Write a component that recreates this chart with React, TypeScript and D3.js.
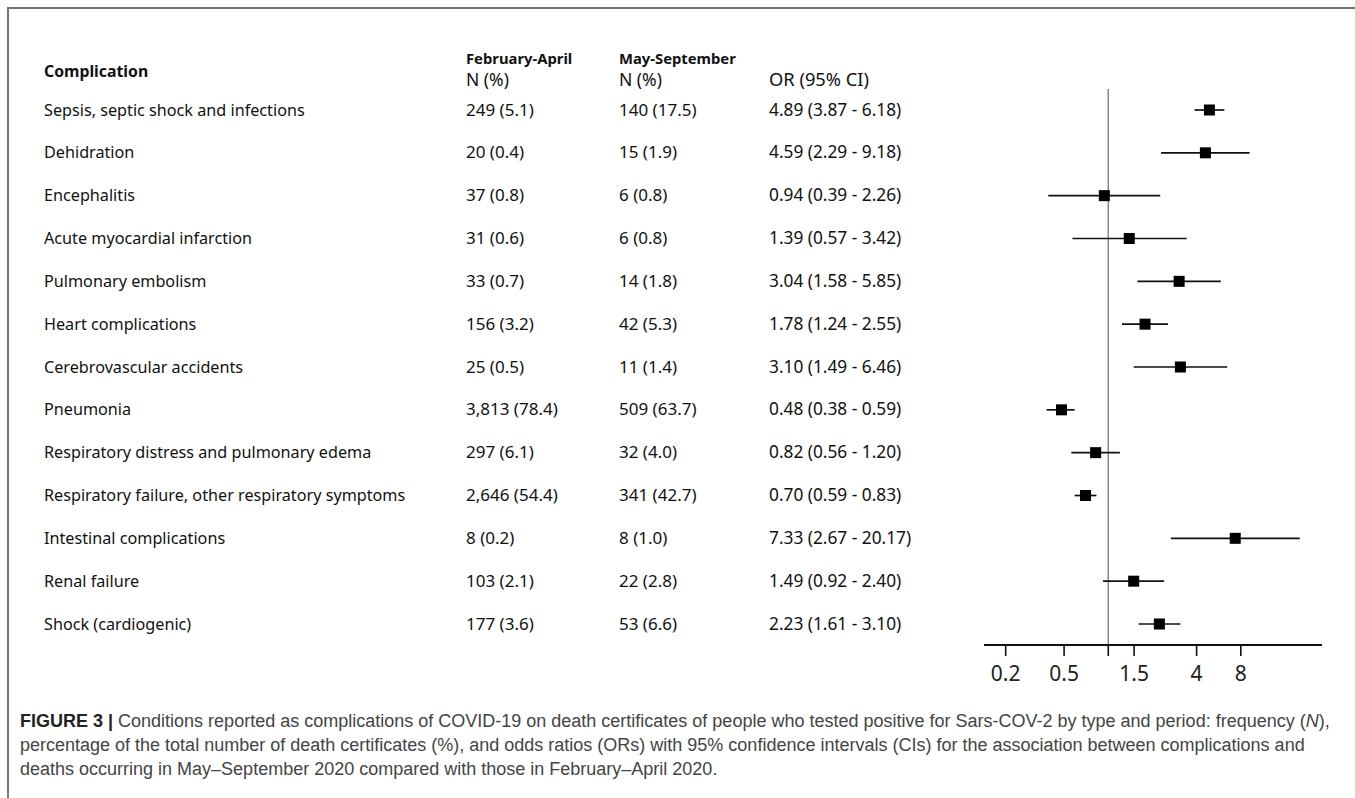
import React from "react";
import * as d3 from "d3";

const complications = [
  "Sepsis, septic shock and infections",
  "Dehidration",
  "Encephalitis",
  "Acute myocardial infarction",
  "Pulmonary embolism",
  "Heart complications",
  "Cerebrovascular accidents",
  "Pneumonia",
  "Respiratory distress and pulmonary edema",
  "Respiratory failure, other respiratory symptoms",
  "Intestinal complications",
  "Renal failure",
  "Shock (cardiogenic)",
];
const febApr = ["249 (5.1)", "20 (0.4)", "37 (0.8)", "31 (0.6)", "33 (0.7)", "156 (3.2)", "25 (0.5)", "3,813 (78.4)", "297 (6.1)", "2,646 (54.4)", "8 (0.2)", "103 (2.1)", "177 (3.6)"];
const maySep = ["140 (17.5)", "15 (1.9)", "6 (0.8)", "6 (0.8)", "14 (1.8)", "42 (5.3)", "11 (1.4)", "509 (63.7)", "32 (4.0)", "341 (42.7)", "8 (1.0)", "22 (2.8)", "53 (6.6)"];
const orValues = [4.89, 4.59, 0.94, 1.39, 3.04, 1.78, 3.1, 0.48, 0.82, 0.7, 7.33, 1.49, 2.23];
const ciLow = [3.87, 2.29, 0.39, 0.57, 1.58, 1.24, 1.49, 0.38, 0.56, 0.59, 2.67, 0.92, 1.61];
const ciHigh = [6.18, 9.18, 2.26, 3.42, 5.85, 2.55, 6.46, 0.59, 1.2, 0.83, 20.17, 2.4, 3.1];
const tickValues = [0.2, 0.5, 1, 1.5, 4, 8];
const tickLabels = ["0.2", "0.5", "", "1.5", "4", "8"];
const captionLines = [
  "Conditions reported as complications of COVID-19 on death certificates of people who tested positive for Sars-COV-2 by type and period: frequency (",
  "percentage of the total number of death certificates (%), and odds ratios (ORs) with 95% confidence intervals (CIs) for the association between complications and",
  "deaths occurring in May\u2013September 2020 compared with those in February\u2013April 2020.",
];

const fmt2 = (v: number) => v.toFixed(2);

export default function App() {
  const W = 1355;
  const H = 798;
  const x = d3.scaleLog().domain([0.1423, 28.6]).range([984, 1322]);
  const y = d3
    .scalePoint<number>()
    .domain(d3.range(complications.length))
    .range([110, 624]);
  const axisY = 645;
  const font = "'Noto Sans', 'Open Sans', sans-serif";
  const capFont = "'Liberation Sans', Arial, sans-serif";
  const colFeb = 466;
  const colMay = 619;
  const colOR = 769;
  const sq = 11;

  return (
    <svg
      width={W}
      height={H}
      style={{ position: "absolute", left: 0, top: 0, background: "#fff" }}
    >
      <rect x={0} y={0} width={W} height={H} fill="#fff" />
      {/* frame */}
      <line x1={7} x2={W} y1={8} y2={8} stroke="#444" strokeWidth={1.5} />
      <line x1={8} x2={8} y1={8} y2={H} stroke="#777" strokeWidth={2} />

      {/* header */}
      <g fontFamily={font} fill="#111">
        <text x={44} y={77} fontWeight="bold" fontSize={15.8}>Complication</text>
        <text x={colFeb} y={64} fontWeight="bold" fontSize={14.8}>February-April</text>
        <text x={colFeb} y={86} fontSize={17.5}>N (%)</text>
        <text x={colMay} y={64} fontWeight="bold" fontSize={14.8}>May-September</text>
        <text x={colMay} y={86} fontSize={17.5}>N (%)</text>
        <text x={colOR} y={86} fontSize={18.3}>OR (95% CI)</text>
      </g>

      {/* rows */}
      <g fontFamily={font} fill="#111">
        {complications.map((c, i) => (
          <g key={c}>
            <text x={44} y={(y(i) as number) + 5.5} fontSize={16.2}>{c}</text>
            <text x={colFeb} y={(y(i) as number) + 5.5} fontSize={17}>{febApr[i]}</text>
            <text x={colMay} y={(y(i) as number) + 5.5} fontSize={17}>{maySep[i]}</text>
            <text x={colOR} y={(y(i) as number) + 5.5} fontSize={17.3}>
              {`${fmt2(orValues[i])} (${fmt2(ciLow[i])} - ${fmt2(ciHigh[i])})`}
            </text>
          </g>
        ))}
      </g>

      {/* reference line */}
      <line x1={x(1)} x2={x(1)} y1={89} y2={axisY} stroke="#888" strokeWidth={1.5} />

      {/* CIs and points */}
      {complications.map((c, i) => {
        const cy = y(i) as number;
        return (
          <g key={"m" + c}>
            <line x1={x(ciLow[i])} x2={x(ciHigh[i])} y1={cy} y2={cy} stroke="#111" strokeWidth={1.7} />
            <rect x={x(orValues[i]) - sq / 2} y={cy - sq / 2} width={sq} height={sq} fill="#000" />
          </g>
        );
      })}

      {/* axis */}
      <line x1={984} x2={1322} y1={axisY} y2={axisY} stroke="#111" strokeWidth={1.8} />
      {tickValues.map((t, i) => (
        <g key={"t" + t}>
          <line x1={x(t)} x2={x(t)} y1={axisY} y2={axisY + 11} stroke="#111" strokeWidth={1.6} />
          <text
            x={x(t)}
            y={axisY + 36}
            textAnchor="middle"
            fontFamily={font}
            fontSize={21}
            fill="#222"
          >
            {tickLabels[i]}
          </text>
        </g>
      ))}

      {/* caption */}
      <g fontFamily={capFont} fontSize={18} fill="#444">
        <text x={20} y={727}>
          <tspan fontWeight="bold" fill="#222">FIGURE 3 | </tspan>
          {captionLines[0]}
          <tspan fontStyle="italic">N</tspan>
          {"),"}
        </text>
        <text x={20} y={751}>{captionLines[1]}</text>
        <text x={20} y={775}>{captionLines[2]}</text>
      </g>
    </svg>
  );
}
